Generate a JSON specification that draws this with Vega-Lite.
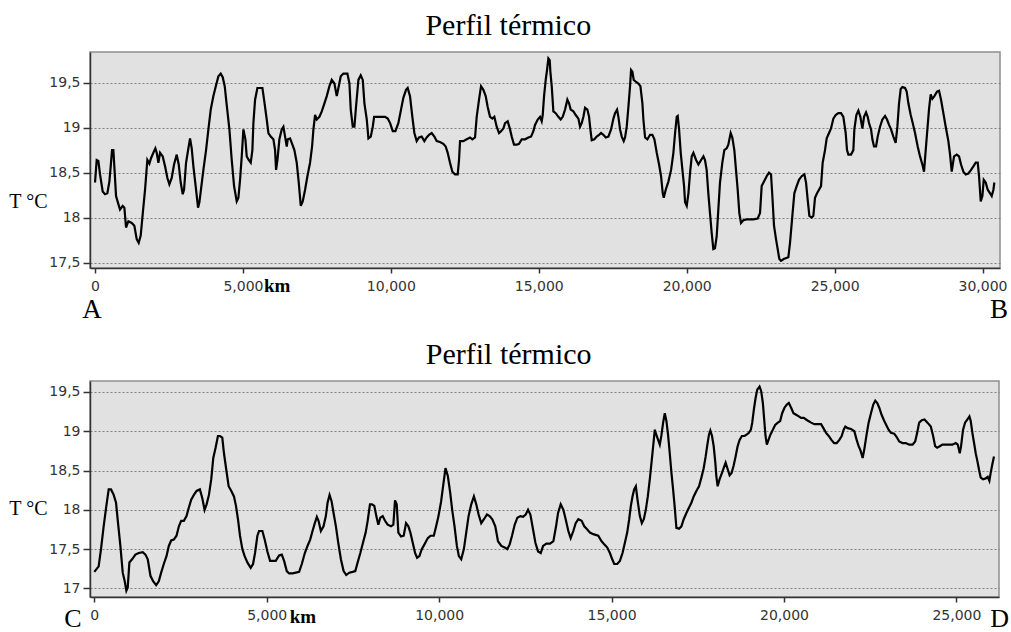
{
"$schema": "https://vega.github.io/schema/vega-lite/v6.json",
"padding": {"left": 7, "top": 10, "right": 0, "bottom": 0},
"spacing": 15,
"config": {
  "view": {"fill": "#e1e1e1", "stroke": "#8f8f8f", "strokeWidth": 1.5},
  "axis": {"labelFont": "DejaVu Sans", "labelFontSize": 14, "labelColor": "#333", "domainColor": "#333", "domainWidth": 1.5, "tickColor": "#333", "tickWidth": 1.5, "gridColor": "#808080", "gridDash": [2, 2], "gridOpacity": 1, "gridWidth": 1, "titleFont": "Liberation Serif", "titleFontSize": 20, "titleFontWeight": "normal", "titleColor": "black"},
  "title": {"font": "Liberation Serif", "fontSize": 30, "fontWeight": "normal", "color": "black", "baseline": "alphabetic", "offset": 11, "anchor": "middle", "frame": "bounds"}
},
"datasets": {
"ab": [
{"km":0,"t":18.39},{"km":56,"t":18.64},{"km":113,"t":18.63},{"km":169,"t":18.48},{"km":259,"t":18.29},{"km":338,"t":18.26},{"km":417,"t":18.27},{"km":485,"t":18.40},{"km":530,"t":18.57},{"km":575,"t":18.75},{"km":620,"t":18.75},{"km":665,"t":18.50},{"km":710,"t":18.24},{"km":789,"t":18.15},{"km":845,"t":18.09},{"km":935,"t":18.13},{"km":992,"t":18.11},{"km":1048,"t":17.89},{"km":1127,"t":17.96},{"km":1240,"t":17.94},{"km":1330,"t":17.91},{"km":1409,"t":17.76},{"km":1476,"t":17.72},{"km":1544,"t":17.80},{"km":1612,"t":18.04},{"km":1691,"t":18.31},{"km":1769,"t":18.64},{"km":1837,"t":18.60},{"km":1893,"t":18.66},{"km":1972,"t":18.72},{"km":2040,"t":18.77},{"km":2085,"t":18.72},{"km":2141,"t":18.61},{"km":2198,"t":18.72},{"km":2288,"t":18.68},{"km":2367,"t":18.57},{"km":2446,"t":18.44},{"km":2513,"t":18.37},{"km":2592,"t":18.44},{"km":2671,"t":18.59},{"km":2761,"t":18.70},{"km":2829,"t":18.59},{"km":2896,"t":18.39},{"km":2964,"t":18.26},{"km":3009,"t":18.31},{"km":3077,"t":18.61},{"km":3156,"t":18.77},{"km":3212,"t":18.88},{"km":3268,"t":18.77},{"km":3325,"t":18.57},{"km":3415,"t":18.31},{"km":3482,"t":18.11},{"km":3528,"t":18.17},{"km":3595,"t":18.35},{"km":3663,"t":18.53},{"km":3753,"t":18.75},{"km":3832,"t":18.98},{"km":3911,"t":19.20},{"km":4001,"t":19.35},{"km":4091,"t":19.47},{"km":4170,"t":19.57},{"km":4249,"t":19.60},{"km":4316,"t":19.56},{"km":4384,"t":19.46},{"km":4452,"t":19.25},{"km":4542,"t":18.98},{"km":4621,"t":18.64},{"km":4700,"t":18.35},{"km":4790,"t":18.18},{"km":4846,"t":18.22},{"km":4902,"t":18.42},{"km":4959,"t":18.68},{"km":5015,"t":18.98},{"km":5083,"t":18.87},{"km":5128,"t":18.68},{"km":5195,"t":18.64},{"km":5263,"t":18.61},{"km":5319,"t":18.75},{"km":5353,"t":19.05},{"km":5410,"t":19.31},{"km":5488,"t":19.44},{"km":5578,"t":19.44},{"km":5658,"t":19.44},{"km":5714,"t":19.31},{"km":5804,"t":19.09},{"km":5860,"t":18.94},{"km":5939,"t":18.90},{"km":6029,"t":18.87},{"km":6086,"t":18.75},{"km":6120,"t":18.53},{"km":6165,"t":18.64},{"km":6232,"t":18.87},{"km":6311,"t":18.98},{"km":6368,"t":19.01},{"km":6424,"t":18.90},{"km":6480,"t":18.79},{"km":6514,"t":18.87},{"km":6593,"t":18.88},{"km":6672,"t":18.81},{"km":6739,"t":18.75},{"km":6818,"t":18.61},{"km":6886,"t":18.39},{"km":6954,"t":18.13},{"km":7021,"t":18.18},{"km":7100,"t":18.31},{"km":7179,"t":18.46},{"km":7269,"t":18.61},{"km":7337,"t":18.79},{"km":7382,"t":18.98},{"km":7438,"t":19.14},{"km":7495,"t":19.09},{"km":7585,"t":19.12},{"km":7664,"t":19.18},{"km":7754,"t":19.27},{"km":7833,"t":19.35},{"km":7923,"t":19.46},{"km":8002,"t":19.53},{"km":8092,"t":19.49},{"km":8171,"t":19.35},{"km":8227,"t":19.44},{"km":8306,"t":19.57},{"km":8396,"t":19.60},{"km":8531,"t":19.60},{"km":8599,"t":19.49},{"km":8644,"t":19.20},{"km":8712,"t":19.01},{"km":8768,"t":19.01},{"km":8824,"t":19.24},{"km":8903,"t":19.53},{"km":8982,"t":19.58},{"km":9050,"t":19.53},{"km":9106,"t":19.27},{"km":9185,"t":19.09},{"km":9241,"t":18.88},{"km":9320,"t":18.90},{"km":9388,"t":19.01},{"km":9433,"t":19.12},{"km":9523,"t":19.12},{"km":9636,"t":19.12},{"km":9805,"t":19.12},{"km":9895,"t":19.10},{"km":9974,"t":19.05},{"km":10064,"t":18.96},{"km":10154,"t":18.96},
{"km":10253,"t":19.05},{"km":10343,"t":19.20},{"km":10422,"t":19.33},{"km":10512,"t":19.42},{"km":10568,"t":19.44},{"km":10647,"t":19.35},{"km":10726,"t":19.12},{"km":10794,"t":18.94},{"km":10873,"t":18.85},{"km":10951,"t":18.89},{"km":11042,"t":18.90},{"km":11132,"t":18.85},{"km":11211,"t":18.89},{"km":11290,"t":18.92},{"km":11380,"t":18.94},{"km":11470,"t":18.90},{"km":11549,"t":18.85},{"km":11661,"t":18.84},{"km":11774,"t":18.82},{"km":11853,"t":18.79},{"km":11921,"t":18.72},{"km":11999,"t":18.61},{"km":12078,"t":18.51},{"km":12169,"t":18.48},{"km":12259,"t":18.48},{"km":12304,"t":18.64},{"km":12338,"t":18.85},{"km":12450,"t":18.85},{"km":12563,"t":18.87},{"km":12676,"t":18.89},{"km":12755,"t":18.87},{"km":12845,"t":18.89},{"km":12901,"t":19.12},{"km":12980,"t":19.31},{"km":13048,"t":19.46},{"km":13127,"t":19.42},{"km":13205,"t":19.35},{"km":13273,"t":19.23},{"km":13352,"t":19.12},{"km":13431,"t":19.10},{"km":13498,"t":19.12},{"km":13577,"t":19.01},{"km":13656,"t":18.94},{"km":13724,"t":18.96},{"km":13803,"t":18.99},{"km":13859,"t":19.05},{"km":13949,"t":19.07},{"km":14028,"t":18.98},{"km":14085,"t":18.90},{"km":14163,"t":18.81},{"km":14254,"t":18.81},{"km":14332,"t":18.82},{"km":14423,"t":18.87},{"km":14535,"t":18.87},{"km":14648,"t":18.89},{"km":14738,"t":18.90},{"km":14817,"t":18.96},{"km":14873,"t":19.03},{"km":14964,"t":19.09},{"km":15042,"t":19.12},{"km":15099,"t":19.07},{"km":15133,"t":19.14},{"km":15178,"t":19.35},{"km":15234,"t":19.53},{"km":15279,"t":19.64},{"km":15324,"t":19.77},{"km":15369,"t":19.75},{"km":15392,"t":19.62},{"km":15437,"t":19.46},{"km":15493,"t":19.18},{"km":15572,"t":19.16},{"km":15662,"t":19.12},{"km":15741,"t":19.09},{"km":15809,"t":19.12},{"km":15888,"t":19.20},{"km":15966,"t":19.31},{"km":16023,"t":19.27},{"km":16079,"t":19.20},{"km":16169,"t":19.18},{"km":16248,"t":19.14},{"km":16339,"t":19.10},{"km":16395,"t":19.01},{"km":16451,"t":19.05},{"km":16508,"t":19.12},{"km":16564,"t":19.22},{"km":16643,"t":19.20},{"km":16699,"t":19.12},{"km":16744,"t":18.98},{"km":16789,"t":18.86},{"km":16879,"t":18.87},{"km":16958,"t":18.90},{"km":17037,"t":18.92},{"km":17105,"t":18.94},{"km":17184,"t":18.92},{"km":17263,"t":18.89},{"km":17353,"t":18.90},{"km":17443,"t":18.98},{"km":17522,"t":19.10},{"km":17578,"t":19.16},{"km":17646,"t":19.20},{"km":17691,"t":19.12},{"km":17747,"t":18.98},{"km":17804,"t":18.90},{"km":17871,"t":18.85},{"km":17916,"t":18.89},{"km":17973,"t":19.01},{"km":18029,"t":19.23},{"km":18085,"t":19.46},{"km":18119,"t":19.64},{"km":18164,"t":19.62},{"km":18209,"t":19.53},{"km":18277,"t":19.51},{"km":18367,"t":19.49},{"km":18435,"t":19.46},{"km":18502,"t":19.27},{"km":18536,"t":19.09},{"km":18593,"t":18.89},{"km":18671,"t":18.87},{"km":18762,"t":18.92},{"km":18840,"t":18.92},{"km":18908,"t":18.87},{"km":18987,"t":18.72},{"km":19066,"t":18.59},{"km":19133,"t":18.46},{"km":19190,"t":18.27},{"km":19224,"t":18.22},{"km":19291,"t":18.31},{"km":19381,"t":18.40},{"km":19472,"t":18.53},{"km":19550,"t":18.72},{"km":19607,"t":18.94},{"km":19663,"t":19.12},{"km":19697,"t":19.13},{"km":19742,"t":18.98},{"km":19798,"t":18.72},{"km":19855,"t":18.53},{"km":19911,"t":18.35},{"km":19945,"t":18.17},{"km":20001,"t":18.13},{"km":20058,"t":18.27},{"km":20114,"t":18.50},{"km":20170,"t":18.68},{"km":20227,"t":18.72},{"km":20317,"t":18.64},{"km":20396,"t":18.59},{"km":20486,"t":18.64},{"km":20565,"t":18.68},
{"km":20618,"t":18.64},{"km":20674,"t":18.53},{"km":20731,"t":18.27},{"km":20787,"t":18.05},{"km":20844,"t":17.83},{"km":20900,"t":17.65},{"km":20956,"t":17.66},{"km":21013,"t":17.79},{"km":21069,"t":18.09},{"km":21125,"t":18.39},{"km":21204,"t":18.61},{"km":21272,"t":18.75},{"km":21351,"t":18.77},{"km":21407,"t":18.81},{"km":21486,"t":18.94},{"km":21542,"t":18.89},{"km":21610,"t":18.75},{"km":21666,"t":18.53},{"km":21723,"t":18.31},{"km":21779,"t":18.05},{"km":21835,"t":17.94},{"km":21914,"t":17.97},{"km":22027,"t":17.98},{"km":22140,"t":17.98},{"km":22252,"t":17.98},{"km":22399,"t":17.99},{"km":22478,"t":18.05},{"km":22534,"t":18.35},{"km":22613,"t":18.40},{"km":22703,"t":18.46},{"km":22782,"t":18.50},{"km":22850,"t":18.48},{"km":22895,"t":18.24},{"km":22951,"t":17.91},{"km":23019,"t":17.76},{"km":23075,"t":17.65},{"km":23131,"t":17.54},{"km":23188,"t":17.52},{"km":23278,"t":17.54},{"km":23436,"t":17.56},{"km":23492,"t":17.72},{"km":23571,"t":18.02},{"km":23638,"t":18.27},{"km":23717,"t":18.35},{"km":23796,"t":18.42},{"km":23886,"t":18.46},{"km":23977,"t":18.48},{"km":24033,"t":18.39},{"km":24089,"t":18.20},{"km":24146,"t":18.02},{"km":24225,"t":18.00},{"km":24281,"t":18.02},{"km":24337,"t":18.22},{"km":24405,"t":18.27},{"km":24472,"t":18.31},{"km":24540,"t":18.35},{"km":24596,"t":18.61},{"km":24675,"t":18.75},{"km":24732,"t":18.88},{"km":24811,"t":18.94},{"km":24878,"t":18.99},{"km":24957,"t":19.10},{"km":25036,"t":19.14},{"km":25126,"t":19.16},{"km":25216,"t":19.16},{"km":25295,"t":19.12},{"km":25374,"t":18.94},{"km":25419,"t":18.75},{"km":25464,"t":18.70},{"km":25554,"t":18.70},{"km":25633,"t":18.75},{"km":25667,"t":18.98},{"km":25735,"t":19.14},{"km":25802,"t":19.19},{"km":25870,"t":19.12},{"km":25938,"t":18.99},{"km":25994,"t":19.12},{"km":26062,"t":19.17},{"km":26118,"t":19.12},{"km":26163,"t":19.05},{"km":26231,"t":18.98},{"km":26276,"t":18.87},{"km":26332,"t":18.79},{"km":26400,"t":18.79},{"km":26456,"t":18.90},{"km":26535,"t":19.01},{"km":26614,"t":19.09},{"km":26704,"t":19.13},{"km":26772,"t":19.09},{"km":26839,"t":19.03},{"km":26907,"t":18.98},{"km":26986,"t":18.90},{"km":27064,"t":18.83},{"km":27121,"t":19.01},{"km":27177,"t":19.27},{"km":27234,"t":19.43},{"km":27290,"t":19.45},{"km":27380,"t":19.44},{"km":27436,"t":19.40},{"km":27493,"t":19.27},{"km":27572,"t":19.14},{"km":27639,"t":19.05},{"km":27718,"t":18.94},{"km":27808,"t":18.79},{"km":27887,"t":18.68},{"km":27966,"t":18.59},{"km":28022,"t":18.51},{"km":28079,"t":18.75},{"km":28135,"t":18.98},{"km":28192,"t":19.21},{"km":28248,"t":19.37},{"km":28304,"t":19.32},{"km":28372,"t":19.35},{"km":28462,"t":19.40},{"km":28530,"t":19.41},{"km":28597,"t":19.31},{"km":28676,"t":19.16},{"km":28755,"t":19.01},{"km":28845,"t":18.85},{"km":28902,"t":18.70},{"km":28958,"t":18.51},{"km":29037,"t":18.68},{"km":29127,"t":18.70},{"km":29206,"t":18.68},{"km":29273,"t":18.59},{"km":29352,"t":18.51},{"km":29431,"t":18.48},{"km":29521,"t":18.49},{"km":29612,"t":18.53},{"km":29691,"t":18.57},{"km":29769,"t":18.61},{"km":29837,"t":18.61},{"km":29882,"t":18.46},{"km":29938,"t":18.18},{"km":29995,"t":18.24},{"km":30040,"t":18.42},{"km":30107,"t":18.39},{"km":30175,"t":18.31},{"km":30254,"t":18.27},{"km":30310,"t":18.24},{"km":30367,"t":18.31},{"km":30400,"t":18.39}
],
"cd": [
{"km":0,"t":17.21},{"km":126,"t":17.28},{"km":194,"t":17.50},{"km":271,"t":17.79},{"km":349,"t":18.05},{"km":417,"t":18.26},{"km":484,"t":18.26},{"km":562,"t":18.19},{"km":630,"t":18.09},{"km":688,"t":17.83},{"km":756,"t":17.54},{"km":824,"t":17.20},{"km":882,"t":17.09},{"km":930,"t":16.97},{"km":969,"t":17.01},{"km":1017,"t":17.33},{"km":1095,"t":17.37},{"km":1192,"t":17.43},{"km":1289,"t":17.45},{"km":1405,"t":17.46},{"km":1483,"t":17.43},{"km":1550,"t":17.37},{"km":1628,"t":17.16},{"km":1705,"t":17.09},{"km":1793,"t":17.04},{"km":1870,"t":17.09},{"km":1938,"t":17.20},{"km":2015,"t":17.31},{"km":2093,"t":17.41},{"km":2161,"t":17.54},{"km":2229,"t":17.61},{"km":2306,"t":17.62},{"km":2384,"t":17.67},{"km":2452,"t":17.79},{"km":2519,"t":17.86},{"km":2597,"t":17.86},{"km":2674,"t":17.92},{"km":2742,"t":18.03},{"km":2810,"t":18.13},{"km":2888,"t":18.19},{"km":2965,"t":18.24},{"km":3062,"t":18.26},{"km":3130,"t":18.15},{"km":3198,"t":18.00},{"km":3256,"t":18.07},{"km":3324,"t":18.19},{"km":3391,"t":18.39},{"km":3450,"t":18.66},{"km":3517,"t":18.79},{"km":3585,"t":18.94},{"km":3643,"t":18.94},{"km":3711,"t":18.92},{"km":3760,"t":18.72},{"km":3827,"t":18.51},{"km":3895,"t":18.30},{"km":3973,"t":18.24},{"km":4050,"t":18.17},{"km":4108,"t":18.05},{"km":4166,"t":17.88},{"km":4225,"t":17.67},{"km":4293,"t":17.50},{"km":4360,"t":17.41},{"km":4438,"t":17.33},{"km":4535,"t":17.26},{"km":4603,"t":17.31},{"km":4661,"t":17.45},{"km":4729,"t":17.67},{"km":4777,"t":17.73},{"km":4874,"t":17.73},{"km":4942,"t":17.62},{"km":5019,"t":17.47},{"km":5097,"t":17.35},{"km":5165,"t":17.35},{"km":5262,"t":17.35},{"km":5358,"t":17.42},{"km":5436,"t":17.43},{"km":5504,"t":17.35},{"km":5581,"t":17.22},{"km":5649,"t":17.19},{"km":5746,"t":17.19},{"km":5843,"t":17.20},{"km":5940,"t":17.21},{"km":6017,"t":17.31},{"km":6105,"t":17.45},{"km":6182,"t":17.54},{"km":6260,"t":17.62},{"km":6328,"t":17.73},{"km":6395,"t":17.83},{"km":6454,"t":17.91},{"km":6502,"t":17.86},{"km":6570,"t":17.73},{"km":6647,"t":17.79},{"km":6715,"t":17.92},{"km":6764,"t":18.09},{"km":6822,"t":18.19},{"km":6880,"t":18.11},{"km":6938,"t":17.96},{"km":7006,"t":17.79},{"km":7074,"t":17.58},{"km":7151,"t":17.37},{"km":7229,"t":17.22},{"km":7306,"t":17.17},{"km":7394,"t":17.20},{"km":7491,"t":17.21},{"km":7568,"t":17.22},{"km":7636,"t":17.33},{"km":7714,"t":17.45},{"km":7791,"t":17.58},{"km":7869,"t":17.71},{"km":7927,"t":17.86},{"km":7994,"t":18.07},{"km":8052,"t":18.07},{"km":8120,"t":18.05},{"km":8178,"t":17.92},{"km":8236,"t":17.81},{"km":8294,"t":17.90},{"km":8362,"t":17.92},{"km":8430,"t":17.86},{"km":8507,"t":17.81},{"km":8604,"t":17.79},{"km":8672,"t":17.81},{"km":8720,"t":18.12},{"km":8769,"t":18.07},{"km":8817,"t":17.71},{"km":8895,"t":17.66},{"km":8972,"t":17.67},{"km":9040,"t":17.83},{"km":9108,"t":17.79},{"km":9166,"t":17.71},{"km":9234,"t":17.58},{"km":9302,"t":17.45},{"km":9360,"t":17.39},{"km":9428,"t":17.41},{"km":9496,"t":17.50},{"km":9574,"t":17.56},{"km":9671,"t":17.64},{"km":9748,"t":17.67},{"km":9845,"t":17.67},{"km":9913,"t":17.79},{"km":9981,"t":17.92},{"km":10058,"t":18.11},{"km":10126,"t":18.34},{"km":10184,"t":18.53},{"km":10252,"t":18.43},{"km":10320,"t":18.22},{"km":10378,"t":18.00},{"km":10446,"t":17.79},{"km":10514,"t":17.54},{"km":10572,"t":17.41},{"km":10640,"t":17.37},{"km":10717,"t":17.50},{"km":10785,"t":17.71},{"km":10853,"t":17.92},{"km":10931,"t":18.07},{"km":11008,"t":18.17},{"km":11076,"t":18.07},{"km":11144,"t":17.94},{"km":11221,"t":17.83},{"km":11299,"t":17.88},{"km":11386,"t":17.94},{"km":11464,"t":17.92},{"km":11541,"t":17.88},{"km":11628,"t":17.79},{"km":11706,"t":17.60},{"km":11803,"t":17.54},{"km":11900,"t":17.52},{"km":11977,"t":17.50},{"km":12045,"t":17.56},{"km":12113,"t":17.67},{"km":12190,"t":17.81},{"km":12268,"t":17.90},{"km":12355,"t":17.92},{"km":12433,"t":17.91},{"km":12510,"t":17.94},{"km":12578,"t":18.00},{"km":12646,"t":17.94},{"km":12723,"t":17.75},{"km":12791,"t":17.58},{"km":12868,"t":17.47},{"km":12946,"t":17.45},{"km":13014,"t":17.54},{"km":13110,"t":17.57},{"km":13216,"t":17.57},{"km":13313,"t":17.60},{"km":13390,"t":17.79},{"km":13448,"t":17.96},{"km":13525,"t":18.07},{"km":13602,"t":18.00},{"km":13669,"t":17.88},{"km":13746,"t":17.73},{"km":13814,"t":17.64},{"km":13891,"t":17.73},{"km":13959,"t":17.83},{"km":14036,"t":17.88},{"km":14132,"t":17.86},{"km":14209,"t":17.79},{"km":14296,"t":17.75},{"km":14373,"t":17.71},{"km":14470,"t":17.69},{"km":14614,"t":17.67},{"km":14711,"t":17.60},{"km":14788,"t":17.56},{"km":14875,"t":17.52},{"km":14952,"t":17.45},{"km":15019,"t":17.37},{"km":15077,"t":17.31},{"km":15164,"t":17.31},{"km":15241,"t":17.35},{"km":15318,"t":17.45},{"km":15386,"t":17.58},{"km":15453,"t":17.71},{"km":15511,"t":17.88},{"km":15559,"t":18.05},{"km":15607,"t":18.17},{"km":15655,"t":18.26},{"km":15704,"t":18.30},{"km":15752,"t":18.13},{"km":15820,"t":17.92},{"km":15878,"t":17.83},{"km":15935,"t":17.88},{"km":15993,"t":18.00},{"km":16051,"t":18.17},{"km":16109,"t":18.39},{"km":16167,"t":18.64},{"km":16215,"t":18.85},{"km":16254,"t":19.02},{"km":16302,"t":18.95},{"km":16350,"t":18.89},{"km":16398,"t":18.83},{"km":16446,"t":18.95},{"km":16495,"t":19.11},{"km":16543,"t":19.23},{"km":16591,"t":19.13},{"km":16639,"t":18.95},{"km":16687,"t":18.72},{"km":16736,"t":18.47},{"km":16784,"t":18.26},{"km":16832,"t":18.03},{"km":16880,"t":17.77},{"km":16957,"t":17.76},{"km":17025,"t":17.79},{"km":17092,"t":17.88},{"km":17170,"t":17.96},{"km":17247,"t":18.03},{"km":17314,"t":18.09},{"km":17382,"t":18.17},{"km":17459,"t":18.24},{"km":17536,"t":18.30},{"km":17604,"t":18.41},{"km":17671,"t":18.53},{"km":17729,"t":18.68},{"km":17778,"t":18.83},{"km":17826,"t":18.96},{"km":17864,"t":19.01},{"km":17913,"t":18.94},{"km":17961,"t":18.81},{"km":18009,"t":18.60},{"km":18038,"t":18.43},{"km":18076,"t":18.30},{"km":18134,"t":18.39},{"km":18202,"t":18.47},{"km":18250,"t":18.53},{"km":18308,"t":18.60},{"km":18366,"t":18.52},{"km":18423,"t":18.44},{"km":18481,"t":18.47},{"km":18539,"t":18.56},{"km":18597,"t":18.68},{"km":18655,"t":18.81},{"km":18713,"t":18.89},{"km":18780,"t":18.94},{"km":18857,"t":18.94},{"km":18925,"t":18.96},{"km":18983,"t":18.98},{"km":19040,"t":19.02},{"km":19079,"t":19.11},{"km":19127,"t":19.28},{"km":19175,"t":19.42},{"km":19224,"t":19.53},{"km":19291,"t":19.57},{"km":19339,"t":19.51},{"km":19387,"t":19.36},{"km":19426,"t":19.15},{"km":19464,"t":18.94},{"km":19503,"t":18.83},{"km":19551,"t":18.89},{"km":19609,"t":18.96},{"km":19677,"t":19.02},{"km":19744,"t":19.08},{"km":19822,"t":19.11},{"km":19889,"t":19.13},{"km":19947,"t":19.23},{"km":20014,"t":19.30},{"km":20082,"t":19.34},{"km":20140,"t":19.36},{"km":20207,"t":19.30},{"km":20275,"t":19.23},{"km":20352,"t":19.21},{"km":20429,"t":19.19},{"km":20497,"t":19.17},{"km":20574,"t":19.17},{"km":20641,"t":19.15},{"km":20709,"t":19.13},{"km":20786,"t":19.11},{"km":20882,"t":19.09},{"km":20979,"t":19.09},{"km":21075,"t":19.09},{"km":21143,"t":19.04},{"km":21220,"t":18.98},{"km":21297,"t":18.94},{"km":21374,"t":18.89},{"km":21452,"t":18.85},{"km":21529,"t":18.85},{"km":21606,"t":18.89},{"km":21673,"t":18.94},{"km":21731,"t":19.02},{"km":21779,"t":19.06},{"km":21847,"t":19.04},{"km":21943,"t":19.03},{"km":22040,"t":19.00},{"km":22107,"t":18.89},{"km":22165,"t":18.81},{"km":22223,"t":18.75},{"km":22281,"t":18.66},{"km":22329,"t":18.77},{"km":22396,"t":18.96},{"km":22454,"t":19.11},{"km":22522,"t":19.23},{"km":22589,"t":19.34},{"km":22647,"t":19.39},{"km":22705,"t":19.36},{"km":22763,"t":19.30},{"km":22830,"t":19.21},{"km":22898,"t":19.14},{"km":22965,"t":19.08},{"km":23033,"t":19.02},{"km":23100,"t":18.98},{"km":23196,"t":18.97},{"km":23264,"t":18.93},{"km":23341,"t":18.87},{"km":23437,"t":18.85},{"km":23534,"t":18.85},{"km":23630,"t":18.83},{"km":23727,"t":18.83},{"km":23804,"t":18.87},{"km":23862,"t":18.98},{"km":23920,"t":19.11},{"km":23997,"t":19.14},{"km":24074,"t":19.15},{"km":24161,"t":19.11},{"km":24257,"t":19.06},{"km":24325,"t":18.94},{"km":24383,"t":18.81},{"km":24441,"t":18.79},{"km":24518,"t":18.81},{"km":24595,"t":18.83},{"km":24692,"t":18.83},{"km":24788,"t":18.83},{"km":24884,"t":18.83},{"km":24981,"t":18.85},{"km":25039,"t":18.83},{"km":25097,"t":18.72},{"km":25135,"t":18.81},{"km":25193,"t":19.02},{"km":25251,"t":19.11},{"km":25319,"t":19.15},{"km":25377,"t":19.19},{"km":25415,"t":19.13},{"km":25463,"t":18.98},{"km":25512,"t":18.85},{"km":25560,"t":18.72},{"km":25608,"t":18.62},{"km":25656,"t":18.51},{"km":25705,"t":18.41},{"km":25772,"t":18.39},{"km":25849,"t":18.40},{"km":25907,"t":18.42},{"km":25956,"t":18.37},{"km":25994,"t":18.47},{"km":26042,"t":18.58},{"km":26090,"t":18.68}
]
},
"vconcat": [
{
  "title": "Perfil térmico",
  "width": 910,
  "height": 216,
  "layer": [
    {
      "data": {"name": "ab"},
      "mark": {"type": "line", "color": "black", "strokeWidth": 2.2},
      "encoding": {
        "x": {"field": "km", "type": "quantitative", "scale": {"domain": [-170, 30590], "nice": false, "zero": false},
              "axis": {"values": [0, 5000, 10000, 15000, 20000, 25000, 30000], "labelExpr": "format(datum.value, ',')", "title": null, "grid": false, "tickSize": 5, "labelPadding": 6, "labelFlush": false, "labelOverlap": false}},
        "y": {"field": "t", "type": "quantitative", "scale": {"domain": [17.44, 19.84], "nice": false, "zero": false},
              "axis": {"values": [17.5, 18, 18.5, 19, 19.5], "labelExpr": "replace(toString(datum.value), '.', ',')", "title": "T °C", "titleAngle": 0, "titleAlign": "right", "titleBaseline": "alphabetic", "titleX": -43, "titleY": 155, "grid": true, "tickSize": 7, "labelPadding": 3}}
      }
    },
    {
      "data": {"values": [{"km": -100, "label": "A"}, {"km": 30560, "label": "B"}]},
      "mark": {"type": "text", "font": "Liberation Serif", "fontSize": 27, "baseline": "alphabetic", "align": "center", "dy": 50, "color": "black"},
      "encoding": {
        "x": {"field": "km", "type": "quantitative", "title": null},
        "y": {"datum": 17.44, "type": "quantitative", "title": null},
        "text": {"field": "label"}
      }
    },
    {
      "data": {"values": [{"km": 5000, "label": "km"}]},
      "mark": {"type": "text", "font": "Liberation Serif", "fontSize": 19, "fontWeight": "bold", "baseline": "alphabetic", "align": "left", "dx": 21, "dy": 24, "color": "black"},
      "encoding": {
        "x": {"field": "km", "type": "quantitative", "title": null},
        "y": {"datum": 17.44, "type": "quantitative", "title": null},
        "text": {"field": "label"}
      }
    }
  ]
},
{
  "title": "Perfil térmico",
  "width": 909,
  "height": 216,
  "layer": [
    {
      "data": {"name": "cd"},
      "mark": {"type": "line", "color": "black", "strokeWidth": 2.2},
      "encoding": {
        "x": {"field": "km", "type": "quantitative", "scale": {"domain": [-125, 26235], "nice": false, "zero": false},
              "axis": {"values": [0, 5000, 10000, 15000, 20000, 25000], "labelExpr": "format(datum.value, ',')", "title": null, "grid": false, "tickSize": 5, "labelPadding": 6, "labelFlush": false, "labelOverlap": false}},
        "y": {"field": "t", "type": "quantitative", "scale": {"domain": [16.89, 19.64], "nice": false, "zero": false},
              "axis": {"values": [17, 17.5, 18, 18.5, 19, 19.5], "labelExpr": "replace(toString(datum.value), '.', ',')", "title": "T °C", "titleAngle": 0, "titleAlign": "right", "titleBaseline": "alphabetic", "titleX": -43, "titleY": 133, "grid": true, "tickSize": 7, "labelPadding": 3}}
      }
    },
    {
      "data": {"values": [{"km": -620, "label": "C"}, {"km": 26250, "label": "D"}]},
      "mark": {"type": "text", "font": "Liberation Serif", "fontSize": 26, "baseline": "alphabetic", "align": "center", "dy": 30, "color": "black"},
      "encoding": {
        "x": {"field": "km", "type": "quantitative", "title": null},
        "y": {"datum": 16.89, "type": "quantitative", "title": null},
        "text": {"field": "label"}
      }
    },
    {
      "data": {"values": [{"km": 5000, "label": "km"}]},
      "mark": {"type": "text", "font": "Liberation Serif", "fontSize": 19, "fontWeight": "bold", "baseline": "alphabetic", "align": "left", "dx": 23, "dy": 26, "color": "black"},
      "encoding": {
        "x": {"field": "km", "type": "quantitative", "title": null},
        "y": {"datum": 16.89, "type": "quantitative", "title": null},
        "text": {"field": "label"}
      }
    }
  ]
}
]
}
